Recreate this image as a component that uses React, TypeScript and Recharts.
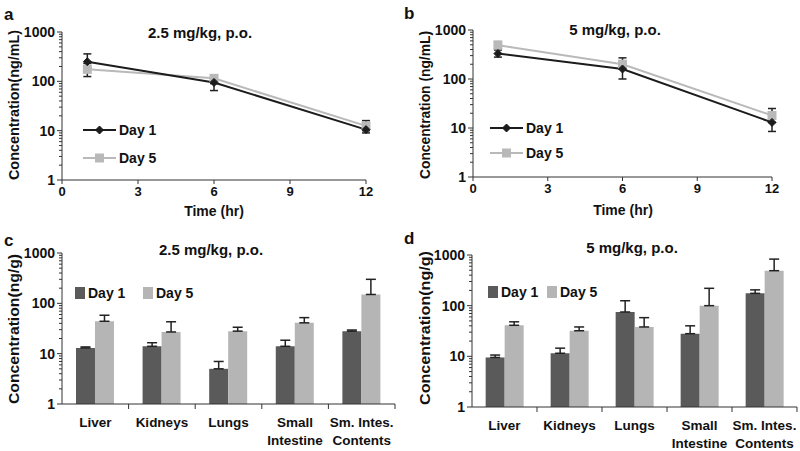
import React from 'react';
import { LineChart, Line, BarChart, Bar, XAxis, YAxis, ErrorBar, Legend } from 'recharts';

const FONT = '"Liberation Sans", Arial, Helvetica, sans-serif';
const DARK_LINE = '#1c1c1c';
const LIGHT_LINE = '#b9b9b9';
const DARK_BAR = '#5a5a5a';
const LIGHT_BAR = '#b5b5b5';
const ERR = '#222222';
const TEXT = '#111111';

// ---- shared axis labels ----
const seriesNames = ['Day 1', 'Day 5'];
const majorTicks = [1, 10, 100, 1000];
const timeTicks = [0, 3, 6, 9, 12];
const timePoints = [1, 6, 12];
const organs = ['Liver', 'Kidneys', 'Lungs', 'Small\nIntestine', 'Sm. Intes.\nContents'];

// ---- panel a: plasma 2.5 mg/kg ----
const aDay1 = [250, 95, 10.5];
const aDay1Lo = [190, 65, 9];
const aDay1Hi = [360, 120, 12.5];
const aDay5 = [175, 115, 12.5];
const aDay5Lo = [125, 90, 10];
const aDay5Hi = [230, 135, 16];

// ---- panel b: plasma 5 mg/kg ----
const bDay1 = [330, 160, 13];
const bDay1Lo = [280, 100, 8.5];
const bDay1Hi = [390, 200, 16];
const bDay5 = [490, 200, 18];
const bDay5Lo = [420, 160, 13];
const bDay5Hi = [580, 270, 25];

// ---- panel c: tissue 2.5 mg/kg ----
const cDay1 = [13, 14, 5, 14, 28];
const cDay1Hi = [13.6, 16.5, 7, 18.5, 29.5];
const cDay5 = [44, 27, 28, 41, 150];
const cDay5Hi = [58, 43, 33.5, 52, 300];

// ---- panel d: tissue 5 mg/kg ----
const dDay1 = [9.5, 11.5, 75, 28, 175];
const dDay1Hi = [10.6, 14.5, 125, 40, 205];
const dDay5 = [41, 32, 38, 100, 490];
const dDay5Hi = [48, 38, 58, 220, 830];

// log ticks with minor marks
const logTicks: number[] = [];
[1, 10, 100].forEach((d) => {
  for (let m = 1; m < 10; m++) logTicks.push(m * d);
});
logTicks.push(1000);

function buildLine(d1: number[], d1Lo: number[], d1Hi: number[], d5: number[], d5Lo: number[], d5Hi: number[]) {
  return timePoints.map((t, i) => ({
    t,
    day1: d1[i],
    day1Err: [d1[i] - d1Lo[i], d1Hi[i] - d1[i]],
    day5: d5[i],
    day5Err: [d5[i] - d5Lo[i], d5Hi[i] - d5[i]],
  }));
}

function buildBar(d1: number[], d1Hi: number[], d5: number[], d5Hi: number[]) {
  return organs.map((name, i) => ({
    name,
    day1: d1[i],
    day1Err: [0, d1Hi[i] - d1[i]],
    day5: d5[i],
    day5Err: [0, d5Hi[i] - d5[i]],
  }));
}

const LogTick = (props: any) => {
  const { x, y, payload } = props;
  const v = payload.value;
  const major = majorTicks.includes(v);
  return (
    <g>
      <line x1={x - (major ? 5 : 3)} x2={x} y1={y} y2={y} stroke="#333" strokeWidth={1} />
      {major && (
        <text x={x - 7} y={y} dy="0.35em" textAnchor="end" fontSize={14} fontWeight="bold" fontFamily={FONT} fill={TEXT}>
          {v}
        </text>
      )}
    </g>
  );
};

const makeCatTick = (band: number) => (props: any) => {
  const { x, y, payload } = props;
  const lines = String(payload.value).split('\n');
  return (
    <g>
      <line x1={x + band / 2} x2={x + band / 2} y1={y} y2={y + 5} stroke="#333" strokeWidth={1} />
      {lines.map((ln, i) => (
        <text key={i} x={x} y={y + 18 + i * 18} dy="0.35em" textAnchor="middle" fontSize={13.5} fontWeight="bold" fontFamily={FONT} fill={TEXT}>
          {ln}
        </text>
      ))}
    </g>
  );
};

const Diamond = (props: any) => {
  const { cx, cy } = props;
  if (cx == null || cy == null) return <g />;
  const s = 4;
  return <path d={`M${cx},${cy - s}L${cx + s},${cy}L${cx},${cy + s}L${cx - s},${cy}Z`} fill={DARK_LINE} stroke={DARK_LINE} />;
};

const Square = (props: any) => {
  const { cx, cy } = props;
  if (cx == null || cy == null) return <g />;
  const s = 4.5;
  return <rect x={cx - s} y={cy - s} width={2 * s} height={2 * s} fill={LIGHT_LINE} />;
};

const makeLineLegend = (gap: number) => () => (
  <svg width={110} height={gap + 20} style={{ overflow: 'visible', display: 'block' }}>
    <line x1={0} x2={33} y1={10} y2={10} stroke={DARK_LINE} strokeWidth={2} />
    <Diamond cx={16.5} cy={10} />
    <text x={36} y={10} dy="0.35em" fontSize={14} fontWeight="bold" fontFamily={FONT} fill={TEXT}>{seriesNames[0]}</text>
    <line x1={0} x2={33} y1={10 + gap} y2={10 + gap} stroke={LIGHT_LINE} strokeWidth={2} />
    <Square cx={16.5} cy={10 + gap} />
    <text x={36} y={10 + gap} dy="0.35em" fontSize={14} fontWeight="bold" fontFamily={FONT} fill={TEXT}>{seriesNames[1]}</text>
  </svg>
);

const makeBarLegend = (second: number) => () => (
  <svg width={130} height={20} style={{ overflow: 'visible', display: 'block' }}>
    <rect x={0} y={4} width={10} height={12} fill={DARK_BAR} />
    <text x={13} y={10} dy="0.35em" fontSize={14} fontWeight="bold" fontFamily={FONT} fill={TEXT}>{seriesNames[0]}</text>
    <rect x={second} y={4} width={10} height={12} fill={LIGHT_BAR} />
    <text x={second + 13} y={10} dy="0.35em" fontSize={14} fontWeight="bold" fontFamily={FONT} fill={TEXT}>{seriesNames[1]}</text>
  </svg>
);

type LinePanelProps = {
  data: any[];
  yWidth: number;
  margin: { top: number; right: number; left: number; bottom: number };
  xHeight: number;
  legendPos: { left: number; top: number };
  legendGap: number;
};

const LinePanel = ({ data, yWidth, margin, xHeight, legendPos, legendGap }: LinePanelProps) => (
  <LineChart width={400} height={225} data={data} margin={margin}>
    <XAxis
      type="number"
      dataKey="t"
      domain={[0, 12]}
      ticks={timeTicks}
      interval={0}
      height={xHeight}
      tickSize={4}
      tickMargin={3}
      stroke="#333"
      tick={{ fontSize: 13, fontWeight: 'bold', fontFamily: FONT, fill: TEXT }}
    />
    <YAxis
      type="number"
      scale="log"
      domain={[1, 1000]}
      allowDataOverflow
      ticks={logTicks}
      interval={0}
      width={yWidth}
      tickSize={0}
      tickMargin={0}
      tickLine={false}
      stroke="#333"
      tick={<LogTick />}
    />
    <Legend
      layout="horizontal"
      verticalAlign="middle"
      align="center"
      wrapperStyle={{ left: legendPos.left, top: legendPos.top, width: 'auto' }}
      content={makeLineLegend(legendGap)}
    />
    <Line dataKey="day5" name={seriesNames[1]} stroke={LIGHT_LINE} strokeWidth={2} dot={<Square />} activeDot={false} isAnimationActive={false}>
      <ErrorBar dataKey="day5Err" direction="y" width={4} stroke={ERR} strokeWidth={1.5} />
    </Line>
    <Line dataKey="day1" name={seriesNames[0]} stroke={DARK_LINE} strokeWidth={2} dot={<Diamond />} activeDot={false} isAnimationActive={false}>
      <ErrorBar dataKey="day1Err" direction="y" width={4} stroke={ERR} strokeWidth={1.5} />
    </Line>
  </LineChart>
);

type BarPanelProps = {
  data: any[];
  yWidth: number;
  margin: { top: number; right: number; left: number; bottom: number };
  xHeight: number;
  legendPos: { left: number; top: number };
  legendSecond: number;
  band: number;
};

const BarPanel = ({ data, yWidth, margin, xHeight, legendPos, legendSecond, band }: BarPanelProps) => (
  <BarChart width={400} height={226} data={data} margin={margin} barCategoryGap="21%" barGap={0}>
    <XAxis
      dataKey="name"
      interval={0}
      height={xHeight}
      tickSize={0}
      tickMargin={0}
      tickLine={false}
      stroke="#333"
      tick={makeCatTick(band)}
    />
    <YAxis
      type="number"
      scale="log"
      domain={[1, 1000]}
      allowDataOverflow
      ticks={logTicks}
      interval={0}
      width={yWidth}
      tickSize={0}
      tickMargin={0}
      tickLine={false}
      stroke="#333"
      tick={<LogTick />}
    />
    <Legend
      layout="horizontal"
      verticalAlign="middle"
      align="center"
      wrapperStyle={{ left: legendPos.left, top: legendPos.top, width: 'auto' }}
      content={makeBarLegend(legendSecond)}
    />
    <Bar dataKey="day1" name={seriesNames[0]} fill={DARK_BAR} isAnimationActive={false}>
      <ErrorBar dataKey="day1Err" direction="y" width={5} stroke={ERR} strokeWidth={1.5} />
    </Bar>
    <Bar dataKey="day5" name={seriesNames[1]} fill={LIGHT_BAR} isAnimationActive={false}>
      <ErrorBar dataKey="day5Err" direction="y" width={5} stroke={ERR} strokeWidth={1.5} />
    </Bar>
  </BarChart>
);

const lineA = buildLine(aDay1, aDay1Lo, aDay1Hi, aDay5, aDay5Lo, aDay5Hi);
const lineB = buildLine(bDay1, bDay1Lo, bDay1Hi, bDay5, bDay5Lo, bDay5Hi);
const barC = buildBar(cDay1, cDay1Hi, cDay5, cDay5Hi);
const barD = buildBar(dDay1, dDay1Hi, dDay5, dDay5Hi);

const txt = { fontFamily: FONT, fontWeight: 'bold' as const, fill: TEXT };

export default function App() {
  return (
    <div style={{ position: 'absolute', left: 0, top: 0, width: 800, height: 451, background: '#fff', overflow: 'hidden' }}>
      <div style={{ position: 'absolute', left: 0, top: 0 }}>
        <LinePanel data={lineA} yWidth={62} margin={{ top: 32, right: 34, left: 0, bottom: 0 }} xHeight={45} legendPos={{ left: 83, top: 120 }} legendGap={28} />
      </div>
      <div style={{ position: 'absolute', left: 400, top: 0 }}>
        <LinePanel data={lineB} yWidth={73} margin={{ top: 30, right: 28, left: 0, bottom: 0 }} xHeight={48} legendPos={{ left: 90, top: 118 }} legendGap={25} />
      </div>
      <div style={{ position: 'absolute', left: 0, top: 225 }}>
        <BarPanel data={barC} yWidth={62} margin={{ top: 28, right: 5, left: 0, bottom: 0 }} xHeight={47} legendPos={{ left: 75, top: 58 }} legendSecond={68} band={66.6} />
      </div>
      <div style={{ position: 'absolute', left: 400, top: 225 }}>
        <BarPanel data={barD} yWidth={72} margin={{ top: 30, right: 3, left: 0, bottom: 0 }} xHeight={44} legendPos={{ left: 88, top: 57 }} legendSecond={59} band={65} />
      </div>
      <svg width={800} height={451} style={{ position: 'absolute', left: 0, top: 0, pointerEvents: 'none' }}>
        <text x={4} y={20} fontSize={17} {...txt}>a</text>
        <text x={404} y={19} fontSize={17} {...txt}>b</text>
        <text x={4} y={246} fontSize={17} {...txt}>c</text>
        <text x={404} y={244} fontSize={17} {...txt}>d</text>

        <text x={200} y={33} dy="0.35em" textAnchor="middle" fontSize={15} {...txt}>2.5 mg/kg, p.o.</text>
        <text x={615} y={30} dy="0.35em" textAnchor="middle" fontSize={15} {...txt}>5 mg/kg, p.o.</text>
        <text x={211} y={250} dy="0.35em" textAnchor="middle" fontSize={15} {...txt}>2.5 mg/kg, p.o.</text>
        <text x={632} y={248} dy="0.35em" textAnchor="middle" fontSize={15} {...txt}>5 mg/kg, p.o.</text>

        <text x={214} y={211} dy="0.35em" textAnchor="middle" fontSize={14} {...txt}>Time (hr)</text>
        <text x={623} y={210} dy="0.35em" textAnchor="middle" fontSize={14} {...txt}>Time (hr)</text>

        <text transform="translate(14,105) rotate(-90)" dy="0.35em" textAnchor="middle" fontSize={14} textLength={150} lengthAdjust="spacingAndGlyphs" {...txt}>Concentration(ng/mL)</text>
        <text transform="translate(425,105) rotate(-90)" dy="0.35em" textAnchor="middle" fontSize={14} textLength={148} lengthAdjust="spacingAndGlyphs" {...txt}>Concentration (ng/mL)</text>
        <text transform="translate(14,329) rotate(-90)" dy="0.35em" textAnchor="middle" fontSize={15} textLength={150} lengthAdjust="spacingAndGlyphs" {...txt}>Concentration(ng/g)</text>
        <text transform="translate(425,328) rotate(-90)" dy="0.35em" textAnchor="middle" fontSize={15} textLength={154} lengthAdjust="spacingAndGlyphs" {...txt}>Concentration(ng/g)</text>
      </svg>
    </div>
  );
}
